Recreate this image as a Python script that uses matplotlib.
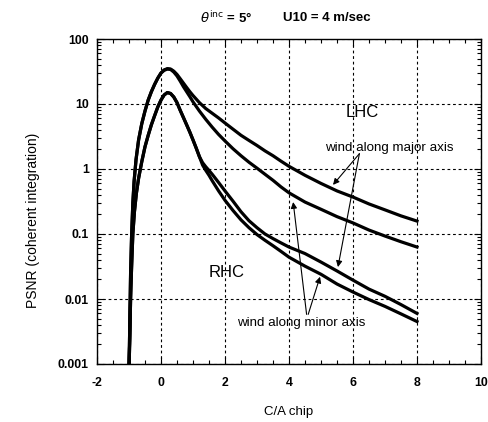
import matplotlib
matplotlib.use("Agg")
import matplotlib.pyplot as plt
from matplotlib.ticker import MultipleLocator, LogLocator, NullFormatter
import numpy as np

plt.rcParams['font.family'] = ['Liberation Sans', 'DejaVu Sans']

# ---- data ----
rise_x = [-1.0, -0.99, -0.97, -0.95, -0.92, -0.88, -0.84, -0.78, -0.7, -0.6, -0.5, -0.4, -0.3, -0.2, -0.1,
          0.0, 0.1, 0.2, 0.3]

lhc_major_x = rise_x + [0.4, 0.5, 0.6, 0.7, 0.8, 0.9, 1.0, 1.2, 1.4, 1.6, 1.8, 2.0, 2.25, 2.5, 2.75,
                        3.0, 3.25, 3.5, 3.75, 4.0, 4.5, 5.0, 5.5, 6.0, 6.5, 7.0, 7.5, 8.0]
lhc_major_y = [0.0008, 0.0015, 0.006, 0.025, 0.09, 0.3, 0.65, 1.4, 2.8, 5.0, 7.8, 11.5, 15.5, 20.0, 25.0,
               30.0, 33.5, 35.0, 34.5,
               32.0, 28.5, 24.5, 21.0, 18.0, 15.5, 13.5, 10.5, 8.5, 7.2, 6.1, 5.1, 4.1, 3.3, 2.75,
               2.3, 1.9, 1.6, 1.32, 1.1, 0.8, 0.6, 0.46, 0.37, 0.29, 0.235, 0.19, 0.158]

lhc_minor_x = rise_x + [0.4, 0.5, 0.6, 0.7, 0.8, 0.9, 1.0, 1.2, 1.4, 1.6, 1.8, 2.0, 2.25, 2.5, 2.75,
                        3.0, 3.25, 3.5, 3.75, 4.0, 4.5, 5.0, 5.5, 6.0, 6.5, 7.0, 7.5, 8.0]
lhc_minor_y = [0.0008, 0.0015, 0.006, 0.025, 0.09, 0.3, 0.65, 1.4, 2.8, 5.0, 7.8, 11.5, 15.5, 20.0, 25.0,
               30.0, 33.0, 34.5, 34.0,
               31.0, 27.0, 22.5, 18.5, 15.5, 13.0, 10.8, 7.8, 5.8, 4.4, 3.4, 2.7, 2.05, 1.6, 1.27,
               1.03, 0.83, 0.67, 0.53, 0.43, 0.31, 0.24, 0.185, 0.148, 0.115, 0.093, 0.076, 0.063]

rhc_rise_x = [-1.0, -0.98, -0.95, -0.92, -0.88, -0.83, -0.77, -0.7, -0.6, -0.5, -0.4, -0.3, -0.2, -0.1,
              0.0, 0.1, 0.2, 0.3, 0.4, 0.5, 0.6, 0.7, 0.8, 0.9, 1.0, 1.1, 1.2]
rhc_rise_y = [0.0008, 0.002, 0.01, 0.03, 0.1, 0.22, 0.42, 0.72, 1.3, 2.2, 3.3, 4.8, 6.6, 9.0,
              11.5, 13.8, 15.0, 14.5, 12.8, 10.5, 8.0, 6.2, 4.8, 3.7, 2.8, 2.1, 1.55]

tail_x = [1.3, 1.4, 1.5, 1.6, 1.8, 2.0, 2.25, 2.5, 2.75, 3.0, 3.25, 3.5, 3.75, 4.0, 4.5, 5.0, 5.5,
          6.0, 6.5, 7.0, 7.5, 8.0]
rhc_major_x = rhc_rise_x + tail_x
rhc_major_y = rhc_rise_y + [1.25, 1.08, 0.95, 0.83, 0.62, 0.46, 0.32, 0.22, 0.16, 0.125, 0.1, 0.085,
                            0.073, 0.063, 0.05, 0.037, 0.027, 0.0195, 0.0142, 0.011, 0.0082, 0.006]
rhc_minor_x = rhc_rise_x + tail_x
rhc_minor_y = rhc_rise_y + [1.15, 0.95, 0.8, 0.66, 0.46, 0.33, 0.23, 0.165, 0.125, 0.098, 0.08, 0.066,
                            0.054, 0.044, 0.032, 0.024, 0.017, 0.0128, 0.0098, 0.0077, 0.0059, 0.0045]

x_ticks = [-2, 0, 2, 4, 6, 8, 10]
y_ticks = [0.001, 0.01, 0.1, 1, 10, 100]
y_tick_labels = ["0.001", "0.01", "0.1", "1", "10", "100"]

fig = plt.figure(figsize=(4.88, 4.22), dpi=100)
ax = fig.add_axes([97/488, 1-364/422, (481-97)/488, (364-39)/422])

lw = 2.3
for xs, ys in [(lhc_major_x, lhc_major_y), (lhc_minor_x, lhc_minor_y),
               (rhc_major_x, rhc_major_y), (rhc_minor_x, rhc_minor_y)]:
    ax.plot(xs, ys, color='black', lw=lw, solid_joinstyle='round', zorder=3)

ax.set_yscale('log')
ax.set_xlim(-2, 10)
ax.set_ylim(0.001, 100)
ax.set_xticks(x_ticks)
ax.set_xticklabels([str(t) for t in x_ticks])
ax.xaxis.set_minor_locator(MultipleLocator(0.5))
ax.set_yticks(y_ticks)
ax.set_yticklabels(y_tick_labels)
ax.yaxis.set_minor_locator(LogLocator(base=10, subs=np.arange(2, 10)))
ax.yaxis.set_minor_formatter(NullFormatter())

ax.tick_params(which='both', direction='in', top=True, right=True, width=0.8, color='black')
ax.tick_params(which='major', length=5)
ax.tick_params(which='minor', length=3)
ax.tick_params(axis='x', which='major', pad=9)
ax.tick_params(axis='y', which='major', pad=6)
for lbl in ax.get_xticklabels() + ax.get_yticklabels():
    lbl.set_fontweight('bold')
    lbl.set_fontsize(8.8)

ax.grid(True, which='major', color='black', lw=0.8, linestyle=(0, (2.5, 2.5)))
for s in ax.spines.values():
    s.set_linewidth(1.0)

# annotations
ax.text(6.28, 7.5, "LHC", fontsize=12, ha='center', va='center')
ax.text(2.05, 0.026, "RHC", fontsize=12, ha='center', va='center')
ax.text(7.12, 2.1, "wind along major axis", fontsize=9.6, ha='center', va='center')
ax.text(4.39, 0.0042, "wind along minor axis", fontsize=9.6, ha='center', va='center')

arrowprops = dict(arrowstyle='-|>', color='black', lw=0.8, mutation_scale=9, shrinkA=0, shrinkB=0)
ax.annotate("", xy=(5.375, 0.57), xytext=(6.2, 1.72), arrowprops=arrowprops)
ax.annotate("", xy=(5.53, 0.031), xytext=(6.2, 1.72), arrowprops=arrowprops)
ax.annotate("", xy=(4.13, 0.31), xytext=(4.55, 0.0058), arrowprops=arrowprops)
ax.annotate("", xy=(4.97, 0.022), xytext=(4.6, 0.0058), arrowprops=arrowprops)

fig.text(200/488, 1-18/422, r"$\theta^{\mathrm{inc}}$ = 5°", fontsize=9.5,
         fontweight='bold', ha='left', va='center')
fig.text(283/488, 1-18/422, "U10 = 4 m/sec", fontsize=9.5,
         fontweight='bold', ha='left', va='center')
fig.text(289/488, 1-412/422, "C/A chip", fontsize=9.5, ha='center', va='center')
fig.text(33/488, 1-220/422, "PSNR (coherent integration)", fontsize=10, rotation=90,
         ha='center', va='center')

fig.savefig("out.png", dpi=100)
